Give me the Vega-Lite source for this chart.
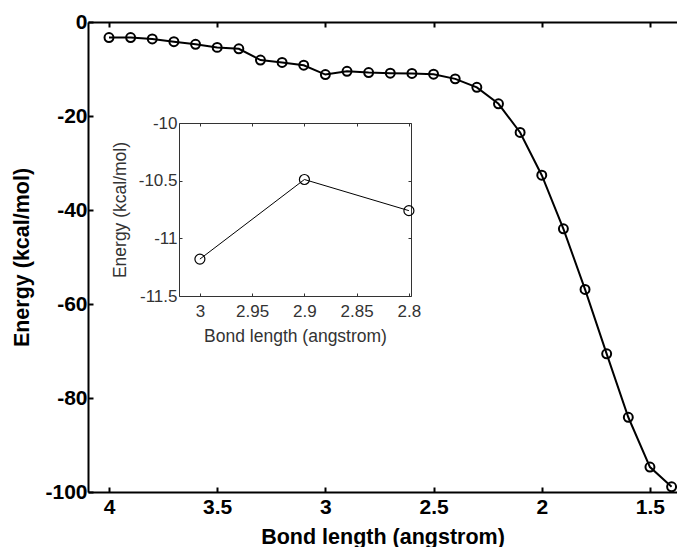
{
  "$schema": "https://vega.github.io/schema/vega-lite/v6.json",
  "width": 589,
  "height": 470,
  "autosize": {"type": "none"},
  "padding": {"left": 88, "top": 22, "right": 0, "bottom": 55},
  "background": "white",
  "config": {"view": {"stroke": null}, "axis": {"grid": false}},
  "datasets": {
    "main": [
      {"bond": 4.0, "energy": -3.3},
      {"bond": 3.9, "energy": -3.3},
      {"bond": 3.8, "energy": -3.6},
      {"bond": 3.7, "energy": -4.2},
      {"bond": 3.6, "energy": -4.75},
      {"bond": 3.5, "energy": -5.4},
      {"bond": 3.4, "energy": -5.7},
      {"bond": 3.3, "energy": -8.1},
      {"bond": 3.2, "energy": -8.6},
      {"bond": 3.1, "energy": -9.2},
      {"bond": 3.0, "energy": -11.18},
      {"bond": 2.9, "energy": -10.49},
      {"bond": 2.8, "energy": -10.76},
      {"bond": 2.7, "energy": -10.9},
      {"bond": 2.6, "energy": -10.95},
      {"bond": 2.5, "energy": -11.1},
      {"bond": 2.4, "energy": -12.1},
      {"bond": 2.3, "energy": -13.9},
      {"bond": 2.2, "energy": -17.4},
      {"bond": 2.1, "energy": -23.5},
      {"bond": 2.0, "energy": -32.6},
      {"bond": 1.9, "energy": -44.0},
      {"bond": 1.8, "energy": -56.9},
      {"bond": 1.7, "energy": -70.6},
      {"bond": 1.6, "energy": -84.1},
      {"bond": 1.5, "energy": -94.7},
      {"bond": 1.4, "energy": -98.9}
    ],
    "inset": [
      {"bond": 3.0, "energy": -11.18},
      {"bond": 2.9, "energy": -10.49},
      {"bond": 2.8, "energy": -10.76}
    ]
  },
  "resolve": {
    "scale": {"x": "independent", "y": "independent"},
    "axis": {"x": "independent", "y": "independent"}
  },
  "layer": [
    {
      "data": {"name": "main"},
      "mark": {"type": "line", "color": "black", "strokeWidth": 2},
      "encoding": {
        "x": {
          "field": "bond", "type": "quantitative",
          "scale": {"domain": [1.375, 4.097], "reverse": true, "nice": false, "zero": false},
          "axis": {
            "orient": "bottom", "values": [4, 3.5, 3, 2.5, 2, 1.5],
            "labelExpr": "toString(datum.value)",
            "title": "Bond length (angstrom)",
            "titleFont": "Liberation Sans", "titleFontWeight": "bold", "titleFontSize": 21.5, "titleColor": "black",
            "titleBaseline": "middle", "titleY": 45,
            "labelFont": "Liberation Sans", "labelFontWeight": "bold", "labelFontSize": 21, "labelColor": "black",
            "labelPadding": 9,
            "domainColor": "black", "domainWidth": 2,
            "tickColor": "black", "tickWidth": 2, "tickSize": -5
          }
        },
        "y": {
          "field": "energy", "type": "quantitative",
          "scale": {"domain": [-100, 0], "nice": false, "zero": false},
          "axis": {
            "orient": "left", "values": [0, -20, -40, -60, -80, -100],
            "labelExpr": "toString(datum.value)",
            "title": "Energy (kcal/mol)",
            "titleFont": "Liberation Sans", "titleFontWeight": "bold", "titleFontSize": 21.5, "titleColor": "black",
            "titleBaseline": "middle", "titleX": -66,
            "labelFont": "Liberation Sans", "labelFontWeight": "bold", "labelFontSize": 21, "labelColor": "black",
            "labelPadding": 6,
            "domainColor": "black", "domainWidth": 2,
            "tickColor": "black", "tickWidth": 2, "tickSize": -5
          }
        }
      }
    },
    {
      "data": {"name": "main"},
      "mark": {"type": "point", "shape": "circle", "filled": false, "color": "black", "strokeWidth": 2, "size": 80, "opacity": 1},
      "encoding": {
        "x": {
          "field": "bond", "type": "quantitative",
          "scale": {"domain": [1.375, 4.097], "reverse": true, "nice": false, "zero": false},
          "axis": {
            "orient": "top", "values": [4, 3.5, 3, 2.5, 2, 1.5],
            "labels": false, "title": null,
            "domainColor": "black", "domainWidth": 2,
            "tickColor": "black", "tickWidth": 2, "tickSize": -5
          }
        },
        "y": {
          "field": "energy", "type": "quantitative",
          "scale": {"domain": [-100, 0], "nice": false, "zero": false},
          "axis": null
        }
      }
    },
    {
      "data": {"name": "inset"},
      "mark": {"type": "line", "color": "black", "strokeWidth": 1},
      "encoding": {
        "x": {
          "field": "bond", "type": "quantitative",
          "scale": {"domain": [2.798, 3.02], "range": [323, 91], "nice": false, "zero": false},
          "axis": {
            "orient": "bottom", "offset": -196, "values": [3, 2.95, 2.9, 2.85, 2.8],
            "labelExpr": "toString(datum.value)",
            "title": "Bond length (angstrom)",
            "titleFont": "Liberation Sans", "titleFontWeight": "normal", "titleFontSize": 17.5, "titleColor": "#333",
            "titleBaseline": "middle", "titleY": 40,
            "labelFont": "Liberation Sans", "labelFontSize": 17, "labelColor": "#333",
            "labelPadding": 10,
            "domainColor": "#333", "domainWidth": 1,
            "tickColor": "#333", "tickWidth": 1, "tickSize": -3
          }
        },
        "y": {
          "field": "energy", "type": "quantitative",
          "scale": {"domain": [-11.5, -10], "range": [274, 101], "nice": false, "zero": false},
          "axis": {
            "orient": "left", "offset": -91, "values": [-10, -10.5, -11, -11.5],
            "labelExpr": "toString(datum.value)",
            "title": "Energy (kcal/mol)",
            "titleFont": "Liberation Sans", "titleFontWeight": "normal", "titleFontSize": 17.5, "titleColor": "#333",
            "titleBaseline": "middle", "titleX": -59,
            "labelFont": "Liberation Sans", "labelFontSize": 17, "labelColor": "#333",
            "labelPadding": 5,
            "domainColor": "#333", "domainWidth": 1,
            "tickColor": "#333", "tickWidth": 1, "tickSize": -3
          }
        }
      }
    },
    {
      "data": {"name": "inset"},
      "mark": {"type": "point", "shape": "circle", "filled": false, "color": "black", "strokeWidth": 1.2, "size": 100, "opacity": 1},
      "encoding": {
        "x": {
          "field": "bond", "type": "quantitative",
          "scale": {"domain": [2.798, 3.02], "range": [323, 91], "nice": false, "zero": false},
          "axis": {
            "orient": "top", "offset": -101, "values": [3, 2.95, 2.9, 2.85, 2.8],
            "labels": false, "title": null,
            "domainColor": "#333", "domainWidth": 1,
            "tickColor": "#333", "tickWidth": 1, "tickSize": -3
          }
        },
        "y": {
          "field": "energy", "type": "quantitative",
          "scale": {"domain": [-11.5, -10], "range": [274, 101], "nice": false, "zero": false},
          "axis": {
            "orient": "right", "offset": -266, "values": [-10, -10.5, -11, -11.5],
            "labels": false, "title": null,
            "domainColor": "#333", "domainWidth": 1,
            "tickColor": "#333", "tickWidth": 1, "tickSize": -3
          }
        }
      }
    }
  ]
}
